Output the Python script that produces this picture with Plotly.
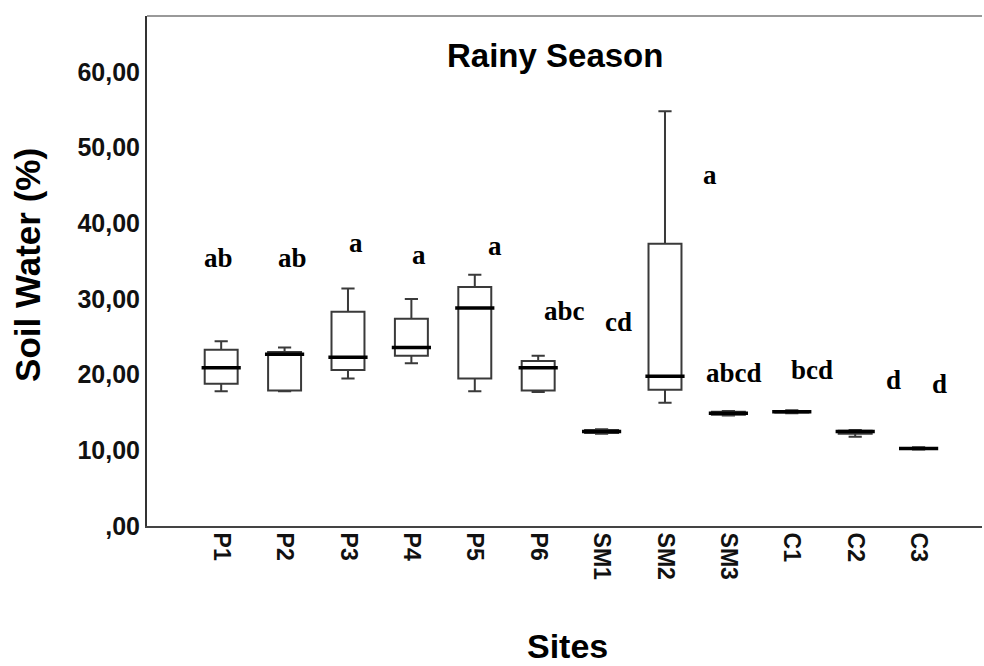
import plotly.graph_objects as go

sites = ["P1", "P2", "P3", "P4", "P5", "P6", "SM1", "SM2", "SM3", "C1", "C2", "C3"]
lower = [17.8, 17.8, 19.5, 21.5, 17.8, 17.7, 12.2, 16.3, 14.6, 14.9, 11.8, 10.1]
q1 =    [18.8, 17.9, 20.6, 22.5, 19.5, 17.9, 12.3, 18.0, 14.7, 15.0, 12.2, 10.2]
median = [20.9, 22.7, 22.3, 23.6, 28.8, 20.9, 12.5, 19.8, 14.9, 15.1, 12.5, 10.25]
q3 =    [23.3, 23.0, 28.3, 27.4, 31.6, 21.8, 12.7, 37.3, 15.1, 15.2, 12.6, 10.3]
upper = [24.4, 23.6, 31.4, 30.0, 33.2, 22.5, 12.8, 54.8, 15.2, 15.3, 12.7, 10.4]

letters = ["ab", "ab", "a", "a", "a", "abc", "cd", "a", "abcd", "bcd", "d", "d"]
letter_y = [35.4, 35.4, 37.4, 35.8, 37.0, 28.4, 27.0, 46.4, 20.2, 20.6, 19.3, 18.8]
letter_dx = [-3, 8, 8, 8, 20, 26, 17, 45, 6, 20, 38, 21]  # pixel shifts

ytick_vals = [0, 10, 20, 30, 40, 50, 60]
ytick_text = [",00", "10,00", "20,00", "30,00", "40,00", "50,00", "60,00"]

idx = list(range(len(sites)))

fig = go.Figure()
fig.add_trace(go.Box(
    x=idx, q1=q1, median=median, q3=q3, lowerfence=lower, upperfence=upper,
    fillcolor="white", line=dict(color="#3a3a3a", width=2),
    width=0.52, whiskerwidth=0.4, boxpoints=False, showlegend=False,
    hoverinfo="skip",
))
fig.add_trace(go.Scatter(
    x=idx, y=median, mode="markers",
    marker=dict(symbol="line-ew", size=28, line=dict(color="black", width=3.5)),
    showlegend=False, hoverinfo="skip",
))

for i, (t, yv, dx) in enumerate(zip(letters, letter_y, letter_dx)):
    fig.add_annotation(x=i, y=yv, text=f"<b>{t}</b>", showarrow=False, xshift=dx,
                       font=dict(family="Liberation Serif", size=27, color="black"),
                       xanchor="center", yanchor="middle")

fig.add_annotation(xref="paper", yref="paper", x=0.489, y=0.9235,
                   xanchor="center", yanchor="middle",
                   text="<b>Rainy Season</b>", showarrow=False,
                   font=dict(family="Liberation Sans", size=33, color="black"))
fig.add_annotation(xref="paper", yref="paper", x=-0.1425, y=0.512,
                   xanchor="center", yanchor="middle",
                   text="<b>Soil Water (%)</b>", showarrow=False, textangle=-90,
                   font=dict(family="Liberation Sans", size=35, color="black"))
fig.add_annotation(xref="paper", yref="paper", x=0.503, y=-0.235,
                   xanchor="center", yanchor="middle",
                   text="<b>Sites</b>", showarrow=False,
                   font=dict(family="Liberation Sans", size=34, color="black"))

fig.add_shape(type="line", xref="paper", yref="paper", x0=0, x1=1, y0=1, y1=1,
              line=dict(color="#999999", width=2))

fig.update_layout(
    width=984, height=666,
    margin=dict(l=147, r=2, t=16, b=140),
    paper_bgcolor="white", plot_bgcolor="white",
    font=dict(family="Liberation Sans", color="black"),
)
fig.update_xaxes(
    range=[-1.17, 12.0], tickmode="array", tickvals=idx, ticktext=[f"<b>{s}</b>" for s in sites],
    tickangle=90, showline=True, linecolor="#444444", linewidth=2, showgrid=False,
    zeroline=False, ticks="", tickfont=dict(size=23, color="#111"),
)
fig.update_yaxes(
    range=[0, 67.4], tickmode="array", tickvals=ytick_vals,
    ticktext=[f"<b>{s}</b>" for s in ytick_text],
    showline=True, linecolor="#333333", linewidth=2, showgrid=False,
    zeroline=False, ticks="", ticklen=0, tickfont=dict(size=25, color="#111"),
)

fig.write_html("out.html")
